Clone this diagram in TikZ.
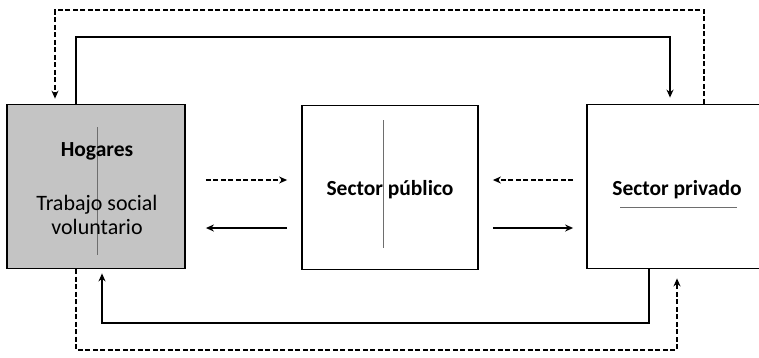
\documentclass[tikz,border=0pt]{standalone}
\usepackage{fontspec}
\setmainfont{Carlito}
\usetikzlibrary{arrows.meta}
\definecolor{boxgray}{RGB}{196,196,196}
\definecolor{linegray}{RGB}{110,110,110}
\tikzset{
  sector/.style={draw=black, line width=1.8pt, minimum width=#1, minimum height=164pt, inner sep=0pt},
  flow/.style={line width=1.5pt, -{Stealth[length=8pt,width=7pt]}},
  dflow/.style={line width=1.2pt, dash pattern=on 5pt off 2.5pt, -{Stealth[length=8pt,width=7pt]}},
  lbl/.style={font=\fontsize{22}{24}\selectfont, align=center, inner sep=0pt},
  blbl/.style={font=\fontsize{21.5}{24}\selectfont\bfseries, inner sep=0pt},
  innerline/.style={draw=linegray, line width=0.9pt}
}
\begin{document}
\begin{tikzpicture}[x=1pt,y=-1pt]
\useasboundingbox (0,0) rectangle (759,357);
% boxes
\node[sector=178pt, fill=boxgray] (hog) at (96,186.5) {};
\node[sector=176pt] (pub) at (390,187.5) {};
\node[sector=178pt] (priv) at (676,186.5) {};
% inner decorations
\coordinate (hl1) at (97,127);
\coordinate (hl2) at (97,255);
\draw[innerline] (hl1) -- (hl2);
\coordinate (pl1) at (383,120);
\coordinate (pl2) at (383,248);
\draw[innerline] (pl1) -- (pl2);
\coordinate (ul1) at (620,207);
\coordinate (ul2) at (737,207);
\draw[innerline] (ul1) -- (ul2);
% texts
\node[blbl] (thog) at (97,151) {Hogares};
\node[lbl] (tvol) at (97,215) {Trabajo social\\voluntario};
\node[blbl] (tpub) at (390,190) {Sector público};
\node[blbl] (tpriv) at (677,190) {Sector privado};
% rows
\coordinate (r1) at (0,180);
\coordinate (r2) at (0,228);
\draw[dflow, shorten <=20pt, shorten >=14pt] (hog.east |- r1) -- (pub.west |- r1);
\draw[flow, shorten <=14pt, shorten >=20pt] (pub.west |- r2) -- (hog.east |- r2);
\draw[dflow, shorten <=13pt, shorten >=14pt] (priv.west |- r1) -- (pub.east |- r1);
\draw[flow, shorten <=14pt, shorten >=13pt] (pub.east |- r2) -- (priv.west |- r2);
% top loops
\coordinate (d1) at (704,10);
\coordinate (d2) at (55,10);
\draw[dflow, shorten >=5pt] (priv.north -| d1) -- (d1) -- (d2) -- (hog.north -| d2);
\coordinate (s1) at (76,37);
\coordinate (s2) at (670,37);
\draw[flow, shorten >=6pt] (hog.north -| s1) -- (s1) -- (s2) -- (priv.north -| s2);
% bottom loops
\coordinate (b1) at (649,323);
\coordinate (b2) at (102,323);
\draw[flow, shorten >=4pt] (priv.south -| b1) -- (b1) -- (b2) -- (hog.south -| b2);
\coordinate (c1) at (76,350);
\coordinate (c2) at (677,350);
\draw[dflow, shorten >=9pt] (hog.south -| c1) -- (c1) -- (c2) -- (priv.south -| c2);
\end{tikzpicture}
\end{document}
